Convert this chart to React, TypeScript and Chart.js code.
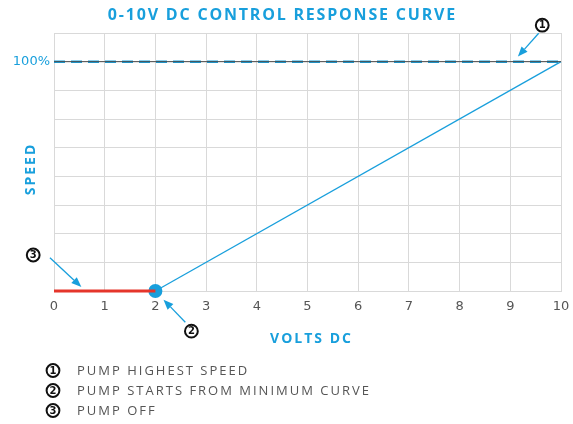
import React, { useEffect, useRef } from "react";
import { Chart, registerables } from "chart.js";

Chart.register(...registerables);

// ---- data ----
const voltTicks = [0, 1, 2, 3, 4, 5, 6, 7, 8, 9, 10];
const offVolts = [0, 2];
const offSpeed = [0, 0];
const rampVolts = [2, 10];
const rampSpeed = [0, 100];
const maxLineVolts = [0, 10];
const maxLineSpeed = [100, 100];
const startVolts = [2];
const startSpeed = [0];
const speedMin = 0;
const speedMax = 112.5;
const speedStep = 12.5;
const speedLabelValue = 100;

const titleText = "0-10V DC CONTROL RESPONSE CURVE";
const xTitle = "VOLTS DC";
const yTitle = "SPEED";
const legendNumbers = ["1", "2", "3"];
const legendLabels = ["PUMP HIGHEST SPEED", "PUMP STARTS FROM MINIMUM CURVE", "PUMP OFF"];

// callouts in data coordinates: number, circle (x,y), arrow tail (x,y), arrow head (x,y)
const calloutNumbers = ["1", "2", "3"];
const calloutCircleX = [9.63, 2.71, -0.41];
const calloutCircleY = [115.9, -17.5, 15.7];
const calloutTailX = [9.56, 2.59, -0.08];
const calloutTailY = [112.4, -13.6, 14.5];
const calloutHeadX = [9.15, 2.16, 0.54];
const calloutHeadY = [102.2, -3.8, 1.75];

const BLUE = "#189fdc";
const RED = "#e5352b";
const GRAY_TEXT = "#555555";
const GRID = "#d9d9d9";

const pts = (xs: number[], ys: number[]) => xs.map((x, i) => ({ x, y: ys[i] }));

function drawSpaced(ctx: CanvasRenderingContext2D, text: string, x: number, y: number, spacing: number, align: "left" | "center") {
  (ctx as any).letterSpacing = spacing + "px";
  const w = ctx.measureText(text).width;
  let sx = x;
  if (align === "center") sx = x - (w - spacing) / 2;
  ctx.textAlign = "left";
  ctx.fillText(text, sx, y);
  (ctx as any).letterSpacing = "0px";
}

function circledNumber(ctx: CanvasRenderingContext2D, n: string, cx: number, cy: number) {
  ctx.save();
  ctx.beginPath();
  ctx.arc(cx, cy, 6.4, 0, Math.PI * 2);
  ctx.fillStyle = "#fff";
  ctx.fill();
  ctx.lineWidth = 2;
  ctx.strokeStyle = "#111";
  ctx.stroke();
  ctx.fillStyle = "#111";
  ctx.font = "bold 10px 'DejaVu Sans'";
  ctx.textAlign = "center";
  ctx.textBaseline = "middle";
  ctx.fillText(n, cx, cy + 0.5);
  ctx.restore();
}

function arrow(ctx: CanvasRenderingContext2D, x1: number, y1: number, x2: number, y2: number) {
  const ang = Math.atan2(y2 - y1, x2 - x1);
  const len = 10;
  const half = 4;
  const bx = x2 - Math.cos(ang) * len;
  const by = y2 - Math.sin(ang) * len;
  ctx.save();
  ctx.strokeStyle = BLUE;
  ctx.fillStyle = BLUE;
  ctx.lineWidth = 1.3;
  ctx.beginPath();
  ctx.moveTo(x1, y1);
  ctx.lineTo(bx, by);
  ctx.stroke();
  ctx.beginPath();
  ctx.moveTo(x2, y2);
  ctx.lineTo(bx + Math.sin(ang) * half, by - Math.cos(ang) * half);
  ctx.lineTo(bx - Math.sin(ang) * half, by + Math.cos(ang) * half);
  ctx.closePath();
  ctx.fill();
  ctx.restore();
}

const decorPlugin = {
  id: "decor",
  afterDraw(chart: any) {
    const ctx: CanvasRenderingContext2D = chart.ctx;
    const xs = chart.scales.x;
    const ys = chart.scales.y;
    const area = chart.chartArea;
    const mid = (area.left + area.right) / 2;
    ctx.save();
    // title
    ctx.fillStyle = BLUE;
    ctx.font = "bold 16px 'Open Sans'";
    ctx.textBaseline = "middle";
    drawSpaced(ctx, titleText, mid - 26, 15, 1.8, "center");
    // x title
    ctx.font = "bold 14px 'Open Sans'";
    drawSpaced(ctx, xTitle, mid + 3, 339, 2, "center");
    // y title
    ctx.save();
    ctx.translate(31, 170);
    ctx.rotate(-Math.PI / 2);
    drawSpaced(ctx, yTitle, 0, 0, 2, "center");
    ctx.restore();
    // callouts
    for (let i = 0; i < calloutNumbers.length; i++) {
      arrow(
        ctx,
        xs.getPixelForValue(calloutTailX[i]),
        ys.getPixelForValue(calloutTailY[i]),
        xs.getPixelForValue(calloutHeadX[i]),
        ys.getPixelForValue(calloutHeadY[i])
      );
      circledNumber(ctx, calloutNumbers[i], xs.getPixelForValue(calloutCircleX[i]), ys.getPixelForValue(calloutCircleY[i]));
    }
    // legend
    for (let i = 0; i < legendLabels.length; i++) {
      const y = 370.5 + i * 20;
      circledNumber(ctx, legendNumbers[i], 53, y);
      ctx.fillStyle = GRAY_TEXT;
      ctx.font = "13px 'Open Sans'";
      ctx.textBaseline = "middle";
      drawSpaced(ctx, legendLabels[i], 77, y + 1, 2, "left");
    }
    ctx.restore();
  },
};

export default function App() {
  const ref = useRef<HTMLCanvasElement | null>(null);
  useEffect(() => {
    document.body.style.margin = "0";
    const canvas = ref.current!;
    const chart = new Chart(canvas, {
      type: "line",
      data: {
        datasets: [
          {
            label: "max-base",
            data: pts(maxLineVolts, maxLineSpeed),
            borderColor: "#4a4a4a",
            borderWidth: 1,
            pointRadius: 0,
          },
          {
            label: "max",
            data: pts(maxLineVolts, maxLineSpeed),
            borderColor: BLUE,
            borderWidth: 2.5,
            borderDash: [11, 6],
            pointRadius: 0,
          },
          {
            label: "off",
            data: pts(offVolts, offSpeed),
            borderColor: RED,
            borderWidth: 3,
            pointRadius: 0,
            clip: false as any,
          },
          {
            label: "ramp",
            data: pts(rampVolts, rampSpeed),
            borderColor: BLUE,
            borderWidth: 1.3,
            pointRadius: 0,
            clip: false as any,
          },
          {
            label: "start",
            data: pts(startVolts, startSpeed),
            borderColor: BLUE,
            backgroundColor: BLUE,
            pointRadius: 7,
            pointBorderWidth: 0,
            showLine: false,
            clip: false as any,
          },
        ],
      },
      options: {
        responsive: false,
        animation: false,
        devicePixelRatio: 1,
        layout: { padding: { top: 33, right: 12, left: 0, bottom: 0 } },
        plugins: { legend: { display: false }, title: { display: false }, tooltip: { enabled: false } },
        scales: {
          x: {
            type: "linear",
            min: voltTicks[0],
            max: voltTicks[voltTicks.length - 1],
            afterFit: (s: any) => {
              s.height = 133;
              s.paddingLeft = 0;
              s.paddingRight = 0;
            },
            afterBuildTicks: (s: any) => {
              s.ticks = voltTicks.map((v) => ({ value: v }));
            },
            grid: { color: GRID, drawTicks: false },
            border: { color: GRID },
            ticks: {
              color: GRAY_TEXT,
              font: { family: "'DejaVu Sans'", size: 13 },
              padding: 8,
              stepSize: 1,
              maxRotation: 0,
            },
          },
          y: {
            type: "linear",
            min: speedMin,
            max: speedMax,
            afterFit: (s: any) => {
              s.width = 54;
              s.paddingTop = 0;
              s.paddingBottom = 0;
            },
            grid: { color: GRID, drawTicks: false },
            border: { color: GRID },
            ticks: {
              stepSize: speedStep,
              color: BLUE,
              font: { family: "'DejaVu Sans'", size: 13 },
              padding: 4,
              callback: (v: any) => (Number(v) === speedLabelValue ? speedLabelValue + "%" : ""),
            },
          },
        },
      },
      plugins: [decorPlugin],
    });
    return () => chart.destroy();
  }, []);
  return (
    <div style={{ width: 573, height: 424 }}>
      <canvas ref={ref} width={573} height={424} style={{ display: "block" }} />
    </div>
  );
}
